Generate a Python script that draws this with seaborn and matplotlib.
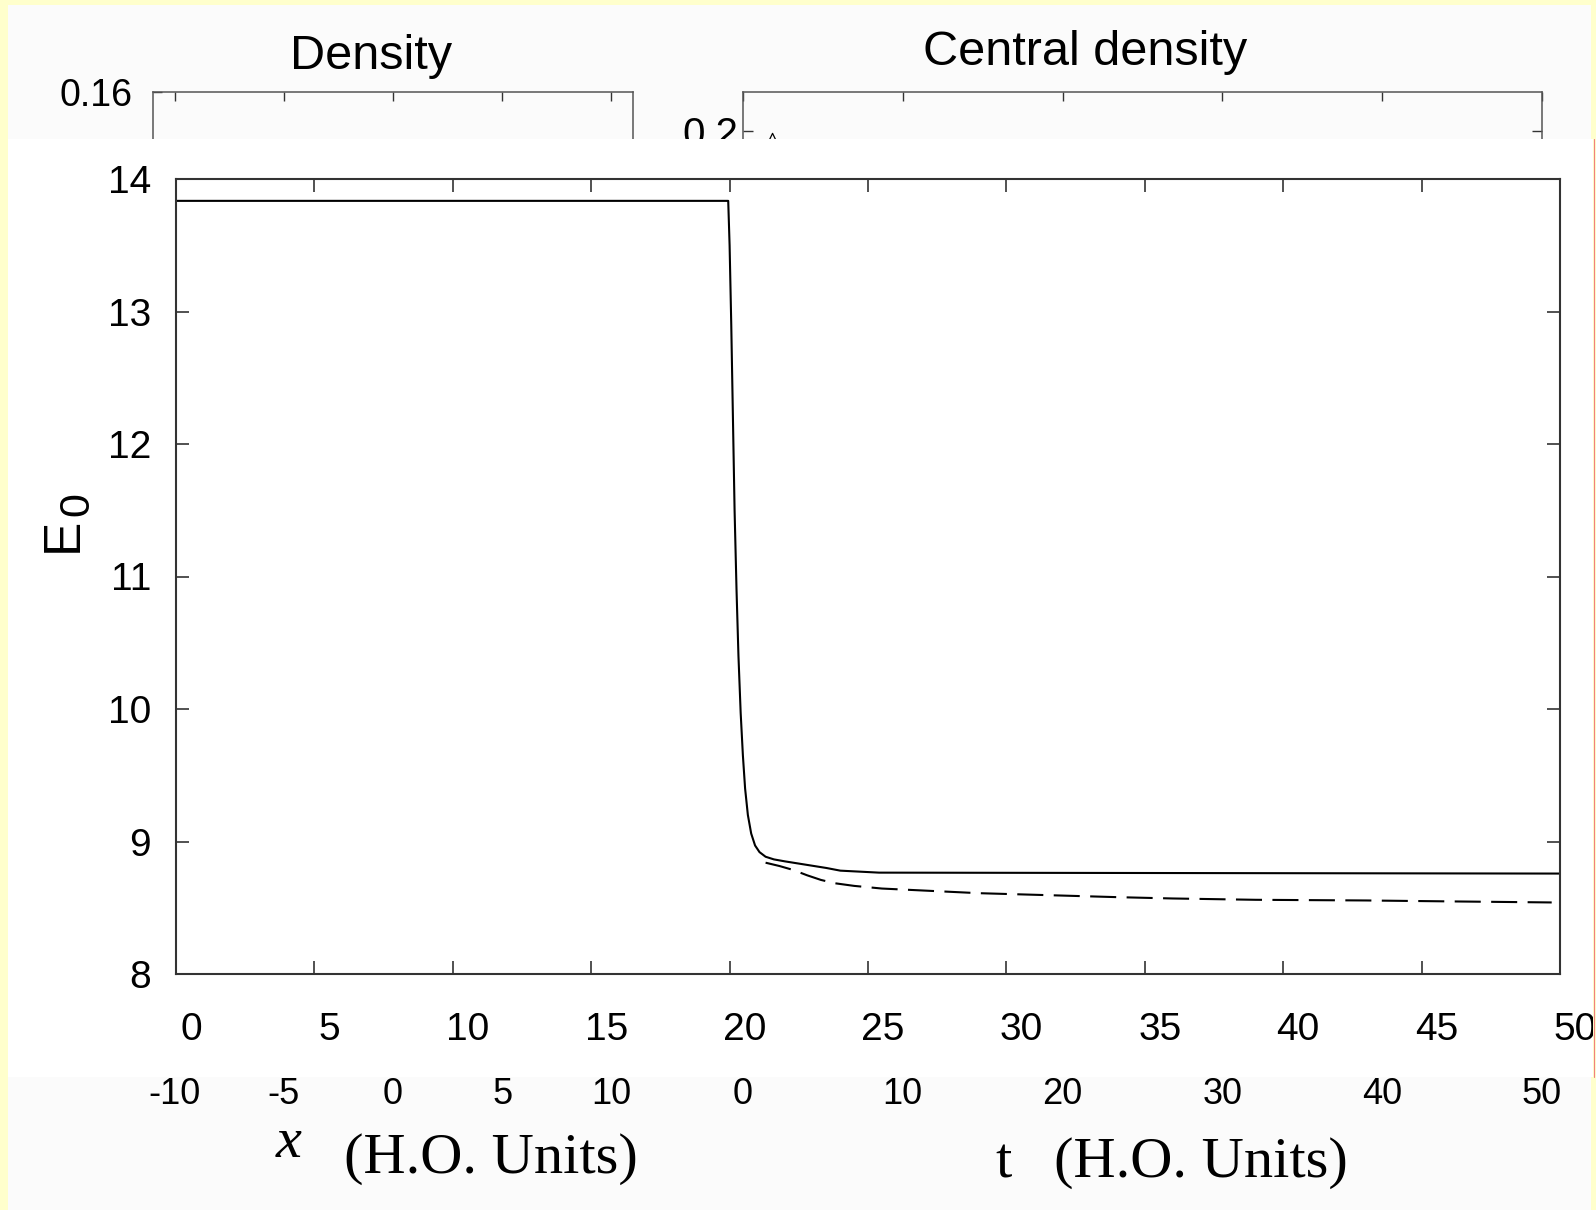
import numpy as np
import pandas as pd
import matplotlib
matplotlib.use("Agg")
import matplotlib.pyplot as plt
import seaborn as sns
from matplotlib.patches import Rectangle
from matplotlib.transforms import ScaledTranslation

# ---------------- data ----------------
# main panel: ground-state energy E0 vs time
t_solid = [0, 19.95, 20.0, 20.06, 20.12, 20.18, 20.25, 20.32, 20.4, 20.48, 20.56,
           20.66, 20.78, 20.92, 21.08, 21.3, 21.6, 22.0, 22.9, 23.5, 24.0, 25.4, 50]
E_solid = [13.835, 13.835, 13.5, 12.9, 12.2, 11.5, 10.9, 10.4, 9.97, 9.65, 9.4,
           9.2, 9.06, 8.97, 8.92, 8.885, 8.865, 8.85, 8.82, 8.80, 8.78, 8.765, 8.758]
t_dashed = [21.3, 21.8, 22.3, 22.8, 23.3, 23.8, 24.5, 25.5, 27.0, 29.0, 31.5,
            34.0, 36.0, 39.0, 43.0, 46.0, 49.7]
E_dashed = [8.84, 8.815, 8.785, 8.745, 8.71, 8.685, 8.665, 8.645, 8.63, 8.61, 8.595,
            8.58, 8.57, 8.56, 8.555, 8.548, 8.54]
main_xticks = [0, 5, 10, 15, 20, 25, 30, 35, 40, 45, 50]
main_yticks = [8, 9, 10, 11, 12, 13, 14]

# background panels (mostly hidden behind the E0 panel)
dens_xticks = [-10, -5, 0, 5, 10]
dens_ytick = [0.16]
cd_xticks = [0, 10, 20, 30, 40, 50]
cd_ytick = [0.2]
cd_t = [0.0, 0.5, 1.0, 1.5, 1.85, 2.2, 2.7, 3.2]
cd_val = [0.12, 0.14, 0.17, 0.197, 0.1995, 0.197, 0.17, 0.15]

# ---------------- style ----------------
sns.set_theme(style="white")
plt.rcParams["font.family"] = ["Liberation Sans", "DejaVu Sans"]
plt.rcParams["axes.unicode_minus"] = False
plt.rcParams["text.color"] = "black"
plt.rcParams["xtick.color"] = "black"
plt.rcParams["ytick.color"] = "black"
plt.rcParams["xtick.labelcolor"] = "black"
plt.rcParams["ytick.labelcolor"] = "black"

W, H = 1596, 1210
DPI = 100
fig = plt.figure(figsize=(W / DPI, H / DPI), dpi=DPI)
fig.patch.set_facecolor("#FFFFCC")


def rect_ax(l, t, r, b):
    return [l / W, 1 - b / H, (r - l) / W, (b - t) / H]


def fr(x0, y0, x1, y1, **kw):
    return Rectangle((x0 / W, 1 - y1 / H), (x1 - x0) / W, (y1 - y0) / H,
                     transform=fig.transFigure, **kw)


# slide panel (near-white)
fig.add_artist(fr(8, 5, 1591, 1210, facecolor="#FBFBFB", edgecolor="none", zorder=-5))

spine_col = "#333333"
tick_col = "#333333"

# ---------------- Density (background) ----------------
axd = fig.add_axes(rect_ax(153, 92, 633, 1060), zorder=0)
axd.set_facecolor("none")
axd.set_xlim(-11, 11)
axd.set_ylim(0, 0.16)
axd.set_xticks(dens_xticks)
axd.set_yticks(dens_ytick)
axd.set_yticklabels(["0.16"])
axd.tick_params(axis="x", direction="in", top=True, bottom=True, length=6.5,
                width=1.0, color=tick_col, labelsize=26, pad=12)
axd.tick_params(axis="y", direction="in", left=True, right=False, length=6.5,
                width=1.0, color=tick_col, labelsize=27, pad=15)
for s in axd.spines.values():
    s.set_color("#555555")
    s.set_linewidth(1.1)

# ---------------- Central density (background) ----------------
axc = fig.add_axes(rect_ax(743, 92, 1542, 1060), zorder=0)
axc.set_facecolor("none")
sns.lineplot(x=cd_t, y=cd_val, ax=axc, color="black", lw=0.9, sort=False,
             estimator=None)
axc.set_xlim(0, 50)
axc.set_ylim(0, 0.2084)
axc.set_xticks(cd_xticks)
axc.set_yticks(cd_ytick)
axc.set_yticklabels(["0.2"])
axc.set_xlabel("")
axc.set_ylabel("")
axc.tick_params(axis="x", direction="in", top=True, bottom=True, length=6.5,
                width=1.0, color=tick_col, labelsize=26, pad=12)
axc.tick_params(axis="y", direction="in", left=True, right=True, length=7,
                width=1.0, color=tick_col, labelsize=29, pad=3)
for s in axc.spines.values():
    s.set_color("#555555")
    s.set_linewidth(1.1)

fig.text(371 / W, 1 - 69 / H, "Density", fontsize=35, ha="center", va="baseline")
fig.text(1085 / W, 1 - 65 / H, "Central density", fontsize=35, ha="center",
         va="baseline")

# ---------------- overlay image area ----------------
overlay = fr(8, 139, 1593, 1077, facecolor="white", edgecolor="none", zorder=1)
fig.add_artist(overlay)
fig.add_artist(plt.Line2D([1593.5 / W, 1593.5 / W], [1 - 139 / H, 1 - 1077 / H],
                          transform=fig.transFigure, color="#F08080", lw=0.8,
                          zorder=1.5))

# ---------------- main E0 panel ----------------
ax = fig.add_axes(rect_ax(176, 179, 1560, 974), zorder=2)
ax.set_facecolor("white")
sns.lineplot(x=t_solid, y=E_solid, ax=ax, color="black", lw=1.5, sort=False,
             estimator=None)
sns.lineplot(x=t_dashed, y=E_dashed, ax=ax, color="black", lw=1.5, sort=False,
             estimator=None, linestyle=(0, (12.5, 5)))
ax.set_xlim(0, 50)
ax.set_ylim(8, 14)
ax.set_xticks(main_xticks)
ax.set_yticks(main_yticks)
ax.set_xticklabels([str(v) for v in main_xticks])
ax.set_yticklabels([str(v) for v in main_yticks])
ax.tick_params(axis="both", direction="in", top=True, bottom=True, left=True,
               right=True, length=9.4, width=1.2, color=tick_col)
ax.tick_params(axis="x", labelsize=28, pad=27)
ax.tick_params(axis="y", labelsize=28, pad=18)
for s in ax.spines.values():
    s.set_color(spine_col)
    s.set_linewidth(1.5)
ax.set_xlabel("")
ax.set_ylabel("")

shift = ScaledTranslation(15 / DPI, 0, fig.dpi_scale_trans)
for tk in ax.xaxis.get_major_ticks():
    tk.label1.set_transform(tk.label1.get_transform() + shift)
    tk.label1.set_clip_path(overlay)
    tk.label1.set_clip_on(True)

# y label E0
fig.text(63 / W, 1 - 535 / H, "E", fontsize=37, rotation=90, ha="center",
         va="center")
fig.text(77 / W, 1 - 504 / H, "0", fontsize=31, rotation=90, ha="center",
         va="center")

# x labels (serif)
serif = ["Liberation Serif", "DejaVu Serif"]
fig.text(289 / W, 1 - 1157 / H, "x", fontsize=42, family=serif, style="italic",
         ha="center", va="baseline")
fig.text(344 / W, 1 - 1173 / H, "(H.O. Units)", fontsize=42, family=serif,
         ha="left", va="baseline")
fig.text(1004 / W, 1 - 1178 / H, "t", fontsize=42, family=serif,
         ha="center", va="baseline")
fig.text(1054 / W, 1 - 1177 / H, "(H.O. Units)", fontsize=42, family=serif,
         ha="left", va="baseline")

fig.savefig("out.png", dpi=DPI, facecolor=fig.get_facecolor())
